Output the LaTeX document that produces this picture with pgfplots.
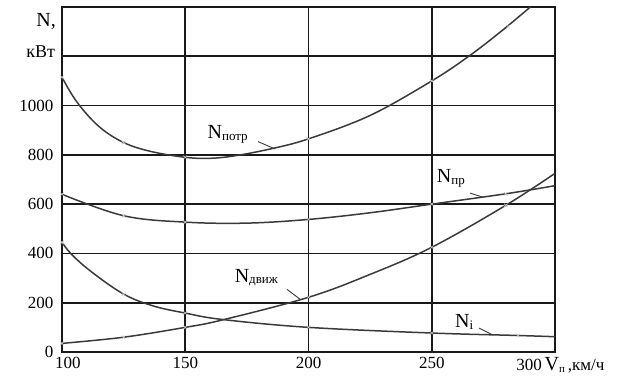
\documentclass[border=0pt]{standalone}
\usepackage{fontspec}
\setmainfont{Liberation Serif}
\usepackage{pgfplots}
\pgfplotsset{compat=1.18}
\definecolor{curve}{HTML}{3A3A3A}
\definecolor{gridc}{HTML}{1A1A1A}
\newcommand{\Nlab}[1]{{\fontsize{20}{20}\selectfont N}\raisebox{-1.5pt}{\fontsize{13}{13}\selectfont #1}}
\begin{document}
\begin{tikzpicture}
\begin{axis}[
  scale only axis, width=493pt, height=345pt,
  xmin=100, xmax=300, ymin=0, ymax=1400,
  xtick={100,150,200,250,300}, xticklabels={\hspace{12pt}100,150,200,250,},
  ytick={0,200,400,600,800,1000,1200,1400}, yticklabels={0,200,400,600,800,1000,,},
  grid=major, major grid style={gridc, line width=1.7pt},
  axis line style={gridc, line width=1.7pt},
  major tick length=0pt,
  tick label style={font=\fontsize{17}{17}\selectfont},
  xticklabel style={yshift=-2pt},
  yticklabel style={xshift=-5pt},
  /pgf/number format/assume math mode=true,
  /pgf/number format/1000 sep={},
  clip=false,
  curvestyle/.style={curve, line width=1.5pt, smooth, tension=0.6, mark=none},
]
% N_potr
\addplot[curvestyle] coordinates {(100,1115)(106,1015)(115,915)(125,850)(136,814)(150,790)(160,786)(170,796)(185,825)(200,865)(225,960)(250,1100)(265,1200)(278,1300)(290,1400)};
% N_pr
\addplot[curvestyle] coordinates {(100,640)(125,553)(150,527)(175,523)(200,538)(225,565)(250,600)(280,642)(300,675)};
% N_dvizh
\addplot[curvestyle] coordinates {(100,35)(125,60)(150,100)(165,130)(200,222)(225,315)(250,425)(280,595)(300,725)};
% N_i
\addplot[curvestyle] coordinates {(100,445)(104,395)(112,325)(125,235)(137,187)(150,158)(165,132)(200,100)(250,77)(285,67)(300,62)};
% faint point markers
\addplot[only marks, mark=x, mark size=2.5pt, gray!45, mark options={line width=0.6pt}] coordinates {
 (100,1115)(125,850)(150,790)(200,865)(250,1100)(281,1320)
 (100,640)(125,553)(150,527)(200,538)(250,600)(280,642)
 (100,35)(125,60)(150,100)(200,222)(250,425)(280,595)
 (100,445)(125,235)(150,158)(200,100)(250,77)(285,67)};

% curve labels with leader lines
\node[anchor=west, inner sep=0pt] at (axis cs:159,883) {\Nlab{потр}};
\draw[curve, line width=0.9pt] (axis cs:179.5,854) -- (axis cs:186.4,824);
\node[anchor=west, inner sep=0pt] at (axis cs:252,705) {\Nlab{пр}};
\draw[curve, line width=0.9pt] (axis cs:265.5,645) -- (axis cs:270.8,628);
\node[anchor=west, inner sep=0pt] at (axis cs:170,302) {\Nlab{движ}};
\draw[curve, line width=0.9pt] (axis cs:191.3,254) -- (axis cs:196.6,214);
\node[anchor=west, inner sep=0pt] at (axis cs:259.4,121) {\Nlab{i}};
\draw[curve, line width=0.9pt] (axis cs:269.2,97) -- (axis cs:274.8,69);

% axis titles
\node[anchor=east, inner sep=0pt, font=\fontsize{20}{20}\selectfont] at (axis cs:97.6,1342) {N,};
\node[anchor=east, inner sep=0pt, font=\fontsize{18}{18}\selectfont] at (axis cs:97.2,1218) {кВт};
\node[anchor=west, inner sep=0pt, font=\fontsize{17}{17}\selectfont] at (axis cs:284.2,-54)
  {300\,{\fontsize{20}{20}\selectfont V}\raisebox{-2pt}{\fontsize{11}{11}\selectfont п}\,,км/ч};
\end{axis}
\pgfresetboundingbox
\path (-62pt,-28pt) rectangle (575pt,352pt);
\end{tikzpicture}
\end{document}
